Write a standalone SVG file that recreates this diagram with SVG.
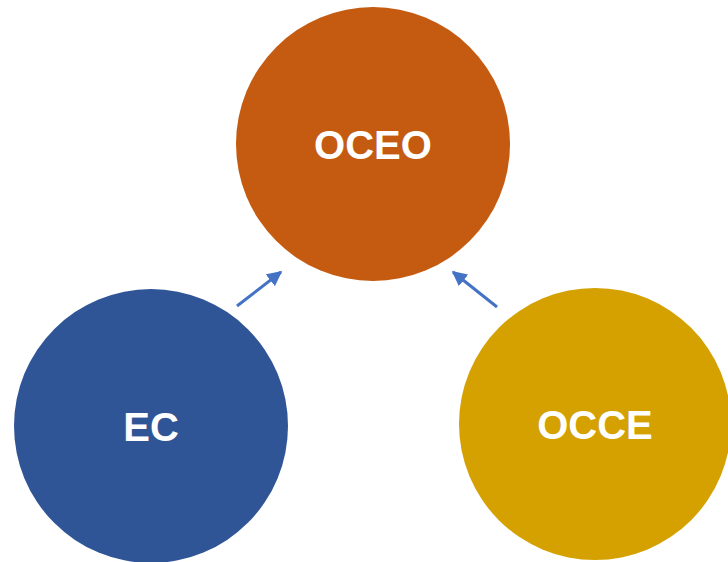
<svg xmlns="http://www.w3.org/2000/svg" width="728" height="562" viewBox="0 0 728 562">
<defs>
<style>
.lbl{font-family:"Liberation Sans",Arial,sans-serif;font-weight:bold;font-size:40px;fill:#ffffff;text-anchor:middle}
.conn{stroke:#4472C4;stroke-width:3;fill:none}
</style>
<marker id="ah" viewBox="0 0 10 10" refX="9" refY="5" markerWidth="5" markerHeight="5" orient="auto" markerUnits="strokeWidth">
<path d="M0,0 L10,5 L0,10 z" fill="#4472C4"/>
</marker>
</defs>
<rect width="728" height="562" fill="#ffffff"/>
<g id="oceo">
<circle cx="373" cy="144" r="137" fill="#C55A11"/>
<text class="lbl" x="373" y="159">OCEO</text>
</g>
<g id="ec">
<circle cx="151" cy="426" r="137" fill="#2F5597"/>
<text class="lbl" x="151" y="441">EC</text>
</g>
<g id="occe">
<circle cx="595" cy="424" r="136" fill="#D4A100"/>
<text class="lbl" x="595" y="439">OCCE</text>
</g>
<g id="connectors">
<line class="conn" x1="237" y1="306" x2="281" y2="272" marker-end="url(#ah)"/>
<line class="conn" x1="497" y1="307" x2="453" y2="272" marker-end="url(#ah)"/>
</g>
</svg>
